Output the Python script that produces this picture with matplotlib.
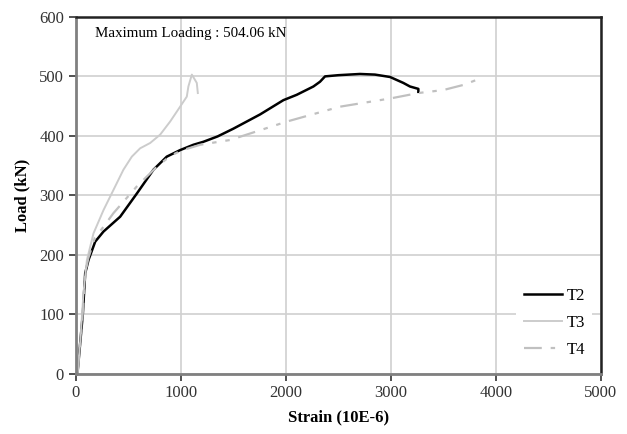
import matplotlib.pyplot as plt

# Load-strain data
t2_strain = [15, 41, 67, 89, 120, 184, 263, 422, 581, 739, 866, 993, 1120, 1215,
             1350, 1500, 1755, 1977, 2104, 2263, 2326, 2374, 2500, 2707, 2850,
             2993, 3120, 3183, 3263, 3263]
t2_load = [0, 51, 102, 169, 191, 222, 239, 264, 303, 343, 365, 376, 385, 390,
           399, 412, 436, 460, 469, 483, 491, 500, 502, 504.06, 503,
           499, 489, 483, 479, 474]

t3_strain = [15, 45, 72, 105, 168, 263, 358, 453, 533, 612, 708, 803, 898, 993,
             1057, 1072, 1105, 1152, 1162]
t3_load = [0, 60, 135, 191, 236, 275, 309, 343, 365, 379, 388, 402, 424, 449,
           466, 483, 503, 489, 472]

t4_strain = [15, 40, 65, 88, 120, 180, 263, 358, 581, 771, 898, 1000, 1184,
             1469, 2010, 2515, 3000, 3263, 3500, 3700, 3830]
t4_load = [0, 50, 100, 168, 195, 228, 247, 270, 315, 348, 366, 375, 385,
           393, 424, 449, 463, 472, 477, 486, 495]

plt.rcParams['font.family'] = ['Liberation Serif', 'DejaVu Serif']

fig, ax = plt.subplots(figsize=(6.27, 4.34), dpi=100)
fig.subplots_adjust(left=0.121, right=0.958, bottom=0.139, top=0.961)

ax.plot(t2_strain, t2_load, color='black', lw=1.8, label='T2')
ax.plot(t3_strain, t3_load, color='#cccccc', lw=1.4, label='T3')
ax.plot(t4_strain, t4_load, color='#c0c0c0', lw=1.6, dashes=(8, 4, 2, 4, 2, 4), label='T4')

ax.set_xlim(0, 5000)
ax.set_ylim(0, 600)
ax.set_xticks(range(0, 5001, 1000))
ax.set_yticks(range(0, 601, 100))
ax.grid(True, color='#d0d0d0', lw=1.2)
ax.set_axisbelow(True)

ax.tick_params(labelsize=12, colors='#333333', length=5, width=1.2)
for s in ['left', 'bottom']:
    ax.spines[s].set_color('#808080')
    ax.spines[s].set_linewidth(2)
for s in ['top', 'right']:
    ax.spines[s].set_color('#222222')
    ax.spines[s].set_linewidth(1.8)

ax.set_xlabel('Strain (10E-6)', fontsize=12, fontweight='bold', labelpad=6)
ax.set_ylabel('Load (kN)', fontsize=12, fontweight='bold', labelpad=6)

ax.text(180, 572, 'Maximum Loading : 504.06 kN', fontsize=10.8, va='center')

leg = ax.legend(loc='lower right', bbox_to_anchor=(1.0, 0.0), frameon=True,
                fontsize=12, handlelength=2.3, handletextpad=0.25, labelspacing=0.65,
                borderpad=0.45)
leg.get_frame().set_edgecolor('none')
leg.get_frame().set_facecolor('white')
leg.get_frame().set_alpha(1)

fig.savefig('out.png')
